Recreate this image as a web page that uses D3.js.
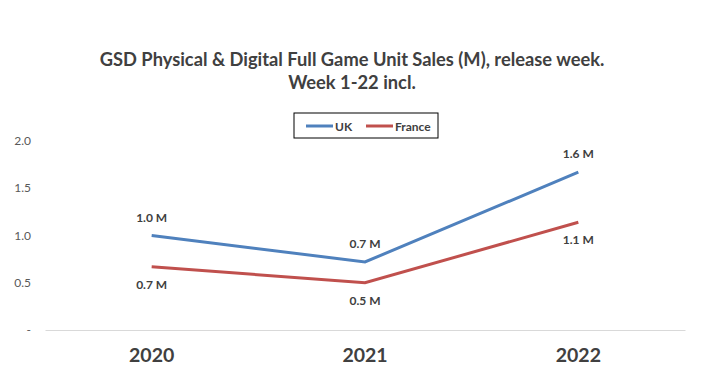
<!doctype html>
<html>
<head>
<script src="https://d3js.org/d3.v7.min.js"></script>
<style>
body { margin: 0; background: #fff; }
svg { font-family: Lato, "Open Sans", sans-serif; }
</style>
</head>
<body>
<svg></svg>
<script>
// data
var years = ["2020", "2021", "2022"];
var uk = [1.0, 0.72, 1.67];
var france = [0.67, 0.5, 1.14];
var ukLabels = ["1.0 M", "0.7 M", "1.6 M"];
var franceLabels = ["0.7 M", "0.5 M", "1.1 M"];
var yTicks = [0, 0.5, 1.0, 1.5, 2.0];

var W = 720, H = 386;
var svg = d3.select("svg").attr("width", W).attr("height", H);

var x = d3.scaleBand().domain(years).range([45, 685]);
var y = d3.scaleLinear().domain([0, 2]).range([330, 141]);

// title
var title = svg.append("text")
	.attr("x", 352).attr("y", 66)
	.attr("text-anchor", "middle")
	.attr("font-weight", "bold")
	.attr("font-size", 18.3)
	.attr("fill", "#404040");
title.append("tspan").attr("x", 352).text("GSD Physical & Digital Full Game Unit Sales (M), release week.");
title.append("tspan").attr("x", 352).attr("dy", 23).text("Week 1-22 incl.");

// y axis labels
svg.append("g").selectAll("text").data(yTicks).enter().append("text")
	.attr("x", 31).attr("y", d => y(d) + 4)
	.attr("text-anchor", "end")
	.attr("font-size", 12)
	.attr("fill", "#595959")
	.text(d => d === 0 ? "-" : d.toFixed(1));

// x axis
var xAxis = svg.append("g").attr("transform", "translate(0," + y(0) + ")")
	.call(d3.axisBottom(x).tickSize(0).tickPadding(18));
xAxis.select(".domain").attr("stroke", "#d9d9d9").attr("stroke-width", 1.2);
xAxis.selectAll("text")
	.attr("font-family", "Lato, 'Open Sans', sans-serif")
	.attr("font-size", 19.5)
	.attr("font-weight", "bold")
	.attr("fill", "#404040");

var cx = d => x(d) + x.bandwidth() / 2;
var line = d3.line().x((d, i) => cx(years[i])).y(d => y(d));

var series = [
	{name: "UK", values: uk, labels: ukLabels, color: "#4F81BD", dy: -14},
	{name: "France", values: france, labels: franceLabels, color: "#C0504D", dy: 22}
];

series.forEach(s => {
	svg.append("path").datum(s.values)
		.attr("d", line)
		.attr("fill", "none")
		.attr("stroke", s.color)
		.attr("stroke-width", 3);
	svg.append("g").selectAll("text").data(s.values).enter().append("text")
		.attr("x", (d, i) => cx(years[i]))
		.attr("y", d => y(d) + s.dy)
		.attr("text-anchor", "middle")
		.attr("font-size", 12)
		.attr("font-weight", "bold")
		.attr("fill", "#404040")
		.text((d, i) => s.labels[i]);
});

// legend
var lg = svg.append("g");
lg.append("rect").attr("x", 294).attr("y", 113).attr("width", 144).attr("height", 25)
	.attr("fill", "#fff").attr("stroke", "#000").attr("stroke-width", 1);
var items = [{name: "UK", color: "#4F81BD", x: 306}, {name: "France", color: "#C0504D", x: 366}];
items.forEach(it => {
	lg.append("line").attr("x1", it.x).attr("x2", it.x + 27).attr("y1", 126).attr("y2", 126)
		.attr("stroke", it.color).attr("stroke-width", 3);
	lg.append("text").attr("x", it.x + 29).attr("y", 130.5)
		.attr("font-size", 12).attr("font-weight", "bold").attr("fill", "#404040")
		.text(it.name);
});
</script>
</body>
</html>
